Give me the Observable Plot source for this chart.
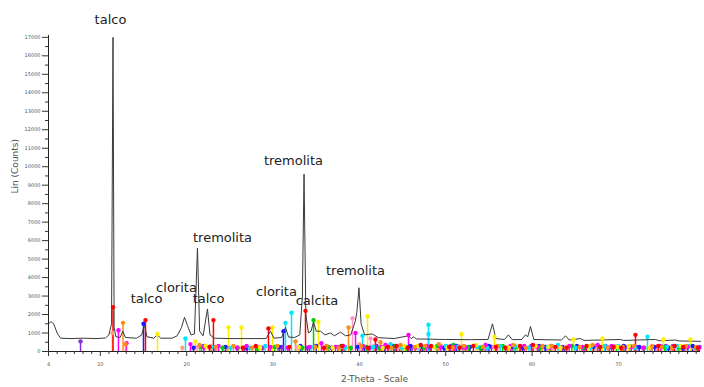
<!DOCTYPE html>
<html><head><meta charset="utf-8">
<script src="https://cdn.jsdelivr.net/npm/d3@7"></script>
<script src="https://cdn.jsdelivr.net/npm/@observablehq/plot@0.6"></script>
<style>body{margin:0;background:#fff}</style>
</head><body><div id="chart"></div>
<script>
// measured diffraction pattern [2-theta, counts]
const pattern = [[4.0,1500],[4.3,1620],[4.6,1500],[5.0,1000],[5.4,720],[6.5,700],[8,720],[9.5,700],[10.6,730],[11.0,900],[11.3,1500],[11.47,17000],[11.6,1300],[11.8,800],[12.3,760],[12.6,1100],[12.9,760],[14.2,720],[14.8,900],[15.1,1450],[15.4,800],[16.2,720],[16.6,900],[17.0,720],[18.3,720],[18.9,850],[19.4,1300],[19.75,1850],[20.1,1400],[20.5,900],[20.9,950],[21.25,5600],[21.5,1100],[21.9,850],[22.41,2300],[22.7,900],[23.2,720],[25,700],[27,700],[29.2,700],[29.7,1100],[30.1,720],[31.0,760],[31.44,1300],[31.8,780],[32.5,760],[33.1,900],[33.4,3000],[33.59,9600],[33.8,2000],[34.1,1000],[34.4,1100],[34.69,1600],[35.0,1100],[35.5,1100],[36.0,900],[36.65,1000],[37.1,850],[37.81,1050],[38.4,850],[39.0,900],[39.5,1600],[39.7,2100],[39.95,3450],[40.2,1500],[40.6,900],[41.5,950],[42.2,750],[44,700],[45.69,850],[46.0,700],[46.26,800],[46.6,680],[50,650],[53,640],[54.9,650],[55.41,1500],[55.8,700],[56.8,650],[57.26,900],[57.7,640],[58.8,650],[59.23,900],[59.5,800],[59.81,1350],[60.2,650],[63.4,620],[63.87,850],[64.3,620],[65.6,700],[66,600],[70.24,650],[70.6,600],[74.29,650],[74.7,580],[76.6,620],[77.0,570],[79.5,550]];

// reference phase sticks [2-theta, counts]
const sticksRed = [[11.47,2400],[15.23,1700],[22.64,250],[23.1,1700],[26.5,200],[28.0,300],[29.47,1250],[31.9,250],[33.76,2200],[35.9,200],[38.0,300],[41.0,200],[41.86,650],[43.3,250],[44.3,300],[45.6,200],[47.1,350],[48.3,300],[50.4,250],[51.6,200],[53.2,300],[55.8,250],[56.9,200],[58.6,300],[60.1,350],[62.7,250],[64.0,200],[66.3,300],[67.9,250],[69.4,250],[70.3,200],[71.97,900],[74.6,300],[76.5,300],[77.5,250],[79.2,200]];
const sticksOrange = [[12.63,1550],[12.92,400],[21.48,350],[23.4,250],[25.42,300],[27.6,200],[30.5,300],[32.6,550],[34.9,250],[36.19,300],[37.6,200],[38.74,1300],[40.2,300],[42.44,500],[43.7,200],[44.76,350],[46.4,250],[47.6,300],[49.2,400],[50.8,200],[52.1,300],[54.3,250],[56.0,300],[57.8,350],[59.3,200],[61.2,300],[62.3,300],[63.9,200],[65.5,250],[67.0,350],[68.8,200],[70.5,250],[71.8,300],[73.9,300],[75.0,250],[76.2,200],[77.8,300],[79.0,250]];
const sticksYellow = [[16.62,950],[21.0,550],[22.2,300],[24.84,1300],[26.35,1300],[28.5,200],[29.94,1300],[33.0,250],[35.26,1600],[36.9,200],[40.94,1900],[42.7,200],[45.2,300],[46.7,300],[48.6,250],[50.2,200],[51.82,950],[53.5,350],[55.64,800],[57.3,200],[58.5,300],[60.4,300],[61.9,250],[63.3,200],[64.79,650],[66.6,300],[68.15,700],[69.9,250],[71.2,300],[73.6,200],[75.21,650],[77.2,300],[78.34,650]];
const sticksGreen = [[21.7,250],[24.15,200],[25.9,200],[28.2,150],[30.2,250],[33.4,200],[34.69,1700],[36.4,250],[37.9,300],[39.0,200],[40.8,250],[42.3,200],[44.18,300],[45.4,250],[47.5,200],[49.0,300],[50.9,350],[52.6,250],[54.0,200],[56.6,300],[58.1,250],[60.9,200],[62.2,300],[64.6,300],[65.9,200],[67.8,250],[69.8,250],[71.3,300],[73.0,200],[75.3,250],[77.0,250],[79.0,200]];
const sticksCyan = [[19.86,700],[22.9,250],[25.1,200],[27.3,200],[29.1,300],[31.44,1550],[32.14,2100],[34.4,250],[38.4,200],[40.36,850],[41.6,250],[43.6,400],[44.9,200],[46.9,300],[48.0,1450],[48.0,950],[50.0,300],[51.4,250],[53.6,250],[54.8,200],[56.3,300],[58.0,300],[59.6,200],[61.8,250],[63.0,350],[65.0,200],[66.8,250],[68.4,300],[70.0,300],[71.9,200],[73.36,800],[75.6,250],[76.8,300],[78.1,300],[79.2,200]];
const sticksBlue = [[15.0,1500],[20.8,200],[24.5,250],[27.0,200],[30.7,250],[31.21,1100],[33.18,300],[35.0,300],[36.8,200],[39.8,250],[40.6,250],[42.9,250],[44.0,300],[45.9,300],[47.3,250],[49.8,200],[51.2,300],[52.8,250],[54.2,200],[55.0,300],[57.7,250],[58.9,200],[60.8,300],[61.5,250],[63.7,200],[65.2,300],[67.1,250],[68.9,200],[70.6,300],[72.4,250],[74.2,250],[75.8,200],[77.4,200],[78.6,300]];
const sticksMagenta = [[12.1,1150],[13.03,450],[20.44,400],[22.0,250],[23.69,300],[25.8,200],[26.93,300],[29.7,250],[31.7,200],[34.22,250],[35.61,450],[37.23,250],[38.1,300],[39.55,1000],[40.4,300],[42.6,250],[43.02,350],[45.69,900],[46.5,200],[47.8,300],[49.4,250],[51.0,250],[52.3,200],[54.6,350],[55.9,250],[57.5,300],[59.1,300],[60.6,250],[62.0,200],[64.3,300],[65.8,250],[67.6,350],[69.2,300],[71.5,250],[72.9,200],[74.9,300],[76.3,300],[78.0,250],[79.3,200]];
const sticksPink = [[21.2,250],[24.3,200],[27.97,250],[32.8,250],[36.7,200],[39.2,1800],[41.29,700],[43.4,300],[44.5,250],[47.0,250],[49.5,300],[51.5,300],[53.9,200],[55.6,250],[58.3,250],[60.2,300],[62.5,200],[64.9,250],[67.3,250],[69.6,300],[72.7,200],[74.4,250],[76.4,250],[78.8,200]];
const sticksPurple = [[7.71,550],[21.95,300],[23.3,250],[26.7,200],[28.78,200],[31.0,250],[34.0,200],[37.5,250],[38.3,250],[41.2,200],[42.0,300],[44.6,250],[46.1,250],[48.2,200],[50.6,300],[52.0,250],[55.3,250],[57.2,200],[59.9,300],[61.6,250],[63.5,250],[66.1,200],[68.5,300],[70.8,250],[72.0,250],[73.7,200],[75.5,300],[77.6,250],[79.4,250]];
const sticksSalmon = [[11.4,1000],[19.5,200],[22.8,300],[24.7,200],[26.0,200],[28.4,250],[30.9,250],[33.0,200],[36.5,200],[37.9,250],[40.0,400],[41.7,300],[43.9,250],[45.1,250],[48.9,200],[50.1,300],[52.4,250],[54.5,250],[57.0,200],[58.7,300],[61.0,250],[63.1,250],[65.9,200],[67.4,300],[70.9,250],[72.2,250],[74.8,300],[76.0,200],[78.5,250]];

// peak annotations
const peakLabels = ["talco","talco","clorita","tremolita","talco","clorita","calcita","tremolita","tremolita"];
const peakLabelTheta = [11.18,15.35,18.82,24.15,22.53,30.4,35.09,32.37,39.55];
const peakLabelCounts = [17960,2850,3460,6170,2870,3210,2720,10330,4380];

// axis ticks
const yTicks = [0,1000,2000,3000,4000,5000,6000,7000,8000,9000,10000,11000,12000,13000,14000,15000,16000,17000];
const xTicks = [4,10,20,30,40,50,60,70];

const phaseSets = [
  [sticksSalmon,"#ffa07a"],[sticksPurple,"#8a2be2"],[sticksPink,"#ff99cc"],[sticksBlue,"#1a1aff"],
  [sticksGreen,"#00cc00"],[sticksCyan,"#00e5ff"],[sticksMagenta,"#ff00ff"],[sticksYellow,"#ffee00"],
  [sticksOrange,"#ff8c1a"],[sticksRed,"#ff0000"]
];
const sticks = phaseSets.flatMap(([arr,color]) => arr.map(([t,c]) => ({theta:t, counts:c, color})));
const labels = peakLabels.map((s,i) => ({text:s, theta:peakLabelTheta[i], counts:peakLabelCounts[i]}));

const yMinor = d3.range(500, 17100, 1000);
const xMinor = d3.range(5, 80, 1).filter(v => v % 10 !== 0);

const chart = Plot.plot({
  width: 704, height: 387,
  marginLeft: 48, marginRight: 4, marginTop: 35, marginBottom: 36,
  x: {domain: [4, 79.5]},
  y: {domain: [0, 17100]},
  color: {type: "identity"},
  style: {fontFamily: "DejaVu Sans", background: "white", color: "#333"},
  marks: [
    Plot.ruleX(sticks, {x: "theta", y1: 0, y2: "counts", stroke: "color", strokeWidth: 1.5}),
    Plot.line(pattern, {x: d => d[0], y: d => d[1], stroke: "#3a3a3a", strokeWidth: 1}),
    Plot.dot(sticks, {x: "theta", y: "counts", fill: "color", r: 2.2}),
    Plot.ruleY([0], {stroke: "#222"}),
    Plot.ruleX([4], {stroke: "#222"}),
    Plot.axisY({ticks: yTicks, tickFormat: "d", tickSize: 6, fontSize: 5, tickPadding: 2, label: null, stroke: "#333", fill: "#555"}),
    Plot.axisY({ticks: yMinor, tickFormat: () => "", tickSize: 3, label: null, stroke: "#333"}),
    Plot.axisX({ticks: xTicks, tickFormat: "d", tickSize: 5, fontSize: 5, tickPadding: 6, label: null, stroke: "#333", fill: "#555"}),
    Plot.axisX({ticks: xMinor, tickFormat: () => "", tickSize: 3, label: null, stroke: "#333"}),
    Plot.text(labels, {x: "theta", y: "counts", text: "text", fontSize: 13, fill: "#222"}),
    Plot.text(["2-Theta - Scale"], {frameAnchor: "bottom", dy: 30, fontSize: 9, fill: "#555"}),
    Plot.text(["Lin (Counts)"], {frameAnchor: "left", dx: -33, rotate: -90, fontSize: 9, fill: "#555"})
  ]
});
document.getElementById("chart").appendChild(chart);
</script>
</body></html>
